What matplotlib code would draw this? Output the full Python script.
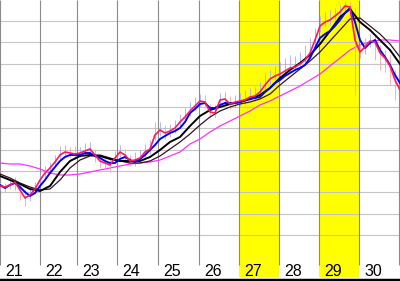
import numpy as np
import matplotlib
matplotlib.use('Agg')
import matplotlib.pyplot as plt

# year labels and the bar index where each year starts (bars every 5 units)
years = ['21', '22', '23', '24', '25', '26', '27', '28', '29', '30']
year_start = [0, 40, 77, 117, 158, 199, 239, 279, 319, 359, 399]
highlight = ['27', '29']

# price bars (one every 5 index units)
bar_x = np.arange(0, 401, 5)
close = [95, 94, 96, 99, 91, 83, 86, 92, 101, 108, 113, 119, 126, 129, 128, 127, 128, 130, 132, 126,
         120, 118, 116, 123, 129, 126, 120, 121, 123, 129, 132, 146, 151, 148, 150, 153, 159, 164, 170, 175,
         180, 179, 169, 168, 181, 182, 177, 179, 180, 181, 184, 185, 189, 196, 202, 205, 207, 210, 213, 214,
         217, 221, 228, 241, 255, 259, 261, 265, 269, 275, 274, 241, 229, 234, 240, 239, 228, 223, 215, 201,
         191]
high = [99, 98, 101, 104, 97, 91, 93, 99, 107, 115, 119, 126, 135, 136, 134, 135, 134, 138, 139, 132,
        125, 124, 123, 130, 136, 132, 126, 129, 131, 137, 141, 159, 159, 156, 157, 161, 167, 173, 179, 184,
        187, 186, 177, 176, 188, 189, 185, 186, 188, 191, 193, 194, 199, 207, 211, 215, 219, 223, 226, 225,
        229, 236, 243, 253, 265, 269, 271, 273, 276, 280, 279, 273, 237, 243, 247, 246, 236, 231, 226, 211,
        201]
low = [91, 89, 92, 91, 81, 75, 80, 87, 96, 103, 109, 115, 122, 124, 123, 122, 124, 126, 127, 119,
       113, 113, 109, 118, 124, 120, 115, 115, 118, 124, 127, 141, 145, 142, 144, 148, 154, 159, 165, 171,
       175, 173, 163, 163, 176, 177, 172, 174, 175, 177, 180, 180, 184, 191, 197, 201, 202, 206, 209, 210,
       213, 217, 223, 235, 249, 254, 256, 259, 264, 270, 266, 186, 223, 227, 234, 221, 211, 209, 196, 181,
       183]

# moving averages
fast_ma = [96, 93, 96, 98, 94, 89, 85, 88, 95, 101, 108, 114, 120, 124, 126, 126, 126, 128, 128, 125,
           123, 120, 118, 118, 122, 124, 121, 119, 122, 126, 131, 136, 142, 145, 148, 150, 153, 159, 168, 172,
           177, 178, 173, 173, 176, 178, 178, 178, 179, 181, 182, 183, 184, 189, 193, 198, 201, 205, 208, 211,
           213, 216, 223, 233, 243, 247, 250, 255, 261, 268, 273, 259, 241, 233, 238, 241, 231, 224, 216, 206,
           198]
ma_x = np.arange(0, 401, 10)
mid_ma = [105, 101, 97, 92, 90, 95, 109, 120, 125, 126, 125, 122, 120, 120, 120, 124, 131, 139, 144, 155,
          165, 171, 174, 177, 179, 182, 186, 193, 203, 211, 218, 226, 237, 250, 264, 272, 259, 251, 241, 231,
          217]
slow_ma = [107, 103, 98, 94, 91, 92, 101, 113, 121, 125, 126, 123, 120, 118, 118, 120, 125, 132, 139, 147,
           156, 164, 170, 174, 177, 179, 182, 187, 196, 204, 212, 220, 229, 240, 251, 262, 263, 255, 247, 237,
           224]
long_ma = [118, 117, 117, 115, 112, 108, 106, 106, 107, 109, 111, 113, 115, 117, 118, 119, 121, 125, 129, 137,
           142, 149, 155, 160, 165, 170, 176, 180, 185, 190, 195, 201, 207, 215, 223, 231, 236, 239, 241, 241,
           240]

fig = plt.figure(figsize=(4, 2.81), dpi=100)
ax = fig.add_axes([0, 0, 1, 1])
ax.set_xlim(0, 400)
ax.set_ylim(0, 281)
ax.axis('off')

# highlighted years
for i, yr in enumerate(years):
    if yr in highlight:
        ax.axvspan(year_start[i], year_start[i+1], ymin=4/281, ymax=1, color='#ffff00', lw=0, zorder=0)

# grid
for yy in np.arange(45.7, 262, 21.43):
    ax.axhline(yy, color='#c4c4c4', lw=0.8, zorder=1)
ax.vlines(year_start, 16, 281, color='#8a8a8a', lw=0.8, zorder=1)
ax.axhline(1.5, color='black', lw=2.5, zorder=5)

# year labels
for i, yr in enumerate(years):
    ax.text(year_start[i] + 5, 5, yr, fontsize=11.5, family='Liberation Sans', va='baseline', ha='left', zorder=6)

ax.plot(ma_x, long_ma, color='#ff30ff', lw=0.9, zorder=2)

# price bars as wicks
prev = close[0]
for xx, c, h, l in zip(bar_x, close, high, low):
    col = '#a8a8ff' if c >= prev else '#ffa0aa'
    ax.vlines(xx, l, h, color=col, lw=0.6, zorder=2.5)
    prev = c

ax.plot(ma_x, slow_ma, color='#3a1028', lw=0.9, zorder=3)
ax.plot(ma_x, mid_ma, color='black', lw=1.4, zorder=3.2)
ax.plot(bar_x, fast_ma, color='#0000ff', lw=1.4, zorder=3.4)
ax.plot(bar_x, close, color='#ff1858', lw=1.2, zorder=3.6)

plt.savefig('out.png', dpi=100)
